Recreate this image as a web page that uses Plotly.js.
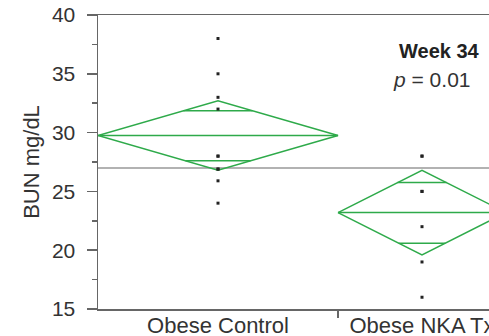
<!DOCTYPE html>
<html><head><meta charset="utf-8">
<script src="https://cdn.plot.ly/plotly-3.0.1.min.js"></script>
<style>html,body{margin:0;padding:0;background:#fff;} #chart{width:489px;height:336px;}</style>
</head><body><div id="chart"></div>
<script>
// ---- data ----
const groups = ["Obese Control", "Obese NKA Tx"];
const groupN = [10, 7];
const pointsControl = [38, 35, 33, 32, 28, 28, 26.9, 26.9, 25.9, 24];
const pointsNKA = [28, 28, 25, 25, 22, 19, 16];
const groupMeans = [29.75, 23.2];
const ciHalf = [2.95, 3.6];
const overlapHi = [31.85, 25.75];
const overlapLo = [27.6, 20.6];
const grandMean = 27.0;
const yTicks = [15, 20, 25, 30, 35, 40];
const yRange = [15, 40];
const annTitle = "Week 34";
const annP = "<i>p</i> = 0.01";

// ---- build ----
const green = "#2eaa4a";
const axisCol = "#666";
const textCol = "#333";
const pointsAll = [pointsControl, pointsNKA];

const starts = [];
let acc = 0;
groupN.forEach(n => { starts.push(acc); acc += n; });
const centers = starts.map((s, i) => s + groupN[i] / 2);

const traces = [];
groups.forEach((g, i) => {
  const l = starts[i], r = starts[i] + groupN[i], c = centers[i];
  const m = groupMeans[i], h = ciHalf[i];
  traces.push({
    type: "scatter", mode: "lines",
    x: [l, c, r, c, l, null, l, r],
    y: [m, m + h, m, m - h, m, null, m, m],
    line: {color: green, width: 1.5}, hoverinfo: "skip", showlegend: false
  });
  const fHi = 1 - Math.abs(overlapHi[i] - m) / h;
  const fLo = 1 - Math.abs(overlapLo[i] - m) / h;
  const hw = groupN[i] / 2;
  traces.push({
    type: "scatter", mode: "lines",
    x: [c - hw * fHi, c + hw * fHi, null, c - hw * fLo, c + hw * fLo],
    y: [overlapHi[i], overlapHi[i], null, overlapLo[i], overlapLo[i]],
    line: {color: green, width: 1.5}, hoverinfo: "skip", showlegend: false
  });
  traces.push({
    type: "scatter", mode: "markers",
    x: pointsAll[i].map(() => c), y: pointsAll[i],
    marker: {symbol: "square", size: 3, color: "#222"},
    showlegend: false
  });
});

const fontFam = "Liberation Sans, Arial, sans-serif";
const layout = {
  width: 489, height: 336,
  margin: {l: 98, r: 0, t: 15, b: 27, pad: 0},
  paper_bgcolor: "#fff", plot_bgcolor: "#fff",
  font: {family: fontFam, color: textCol},
  showlegend: false,
  xaxis: {
    range: [0, 391 / 24], showgrid: false, zeroline: false,
    showline: true, mirror: true, linecolor: axisCol, linewidth: 1.5,
    tickmode: "array", tickvals: centers, ticktext: groups, ticks: "",
    ticklabeloverflow: "allow", ticklabelstandoff: -4,
    tickfont: {size: 22, color: textCol, family: fontFam},
    minor: {tickmode: "array", tickvals: starts.slice(1), ticks: "outside", ticklen: 7, tickwidth: 1.5, tickcolor: axisCol, showgrid: false},
    fixedrange: true
  },
  yaxis: {
    range: yRange, showgrid: false, zeroline: false,
    showline: true, linecolor: axisCol, linewidth: 1.5,
    tickmode: "array", tickvals: yTicks, ticks: "outside", ticklen: 10, tickwidth: 1.5, tickcolor: axisCol,
    ticklabelstandoff: 7,
    tickfont: {size: 21, color: textCol, family: fontFam},
    minor: {dtick: 2.5, tick0: 15, ticks: "outside", ticklen: 5, tickwidth: 1.5, tickcolor: axisCol, showgrid: false},
    title: {text: "BUN mg/dL", font: {size: 22, color: textCol, family: fontFam}, standoff: 6},
    fixedrange: true
  },
  shapes: [{
    type: "line", xref: "paper", x0: 0, x1: 1, yref: "y", y0: grandMean, y1: grandMean,
    line: {color: "#999", width: 1.5}, layer: "below"
  }],
  annotations: [
    {text: "<b>" + annTitle + "</b>", xref: "paper", yref: "paper", x: (397 - 98) / 391, y: 1 - (51 - 15) / 294,
     xanchor: "left", yanchor: "middle", showarrow: false, font: {size: 20, color: "#222", family: fontFam}},
    {text: annP, xref: "paper", yref: "paper", x: (391 - 98) / 391, y: 1 - (79 - 15) / 294,
     xanchor: "left", yanchor: "middle", showarrow: false, font: {size: 21, color: textCol, family: fontFam}}
  ]
};

Plotly.newPlot("chart", traces, layout, {staticPlot: true, displayModeBar: false});
</script>
</body></html>
